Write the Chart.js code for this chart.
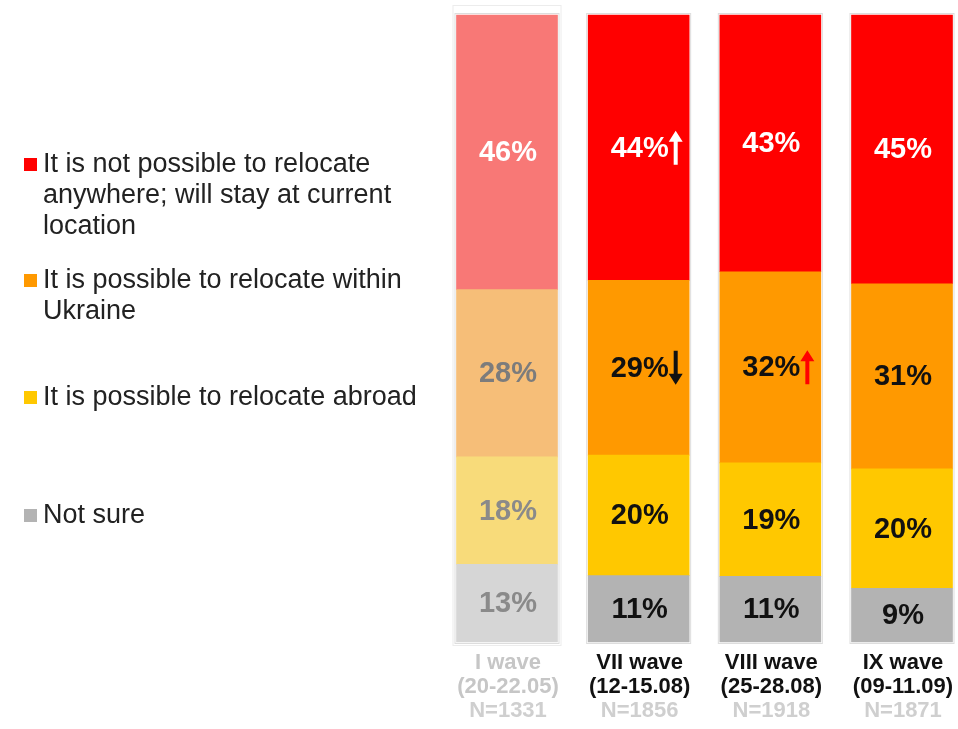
<!DOCTYPE html>
<html>
<head>
<meta charset="utf-8">
<script src="https://cdn.jsdelivr.net/npm/chart.js@4/dist/chart.umd.min.js"></script>
<style>
  html, body { margin: 0; padding: 0; background: #ffffff; }
  #wrap { width: 958px; height: 729px; position: relative; }
</style>
</head>
<body>
<div id="wrap"><canvas id="c" width="958" height="729"></canvas></div>
<script>
// Survey waves (x categories)
const waves = ['I wave', 'VII wave', 'VIII wave', 'IX wave'];
const periods = ['(20-22.05)', '(12-15.08)', '(25-28.08)', '(09-11.09)'];
const sampleSizes = ['N=1331', 'N=1856', 'N=1918', 'N=1871'];

// Answer options
const seriesNames = [
  'It is not possible to relocate anywhere; will stay at current location',
  'It is possible to relocate within Ukraine',
  'It is possible to relocate abroad',
  'Not sure'
];
const legendLines = [
  ['It is not possible to relocate', 'anywhere; will stay at current', 'location'],
  ['It is possible to relocate within', 'Ukraine'],
  ['It is possible to relocate abroad'],
  ['Not sure']
];

// Shares of respondents, %
const notPossible   = [46, 44, 43, 45];
const withinUkraine = [28, 29, 32, 31];
const abroad        = [18, 20, 19, 20];
const notSure       = [13, 11, 11, 9];

// Significant change vs. previous wave
const notPossibleChange   = [null, 'up', null, null];
const withinUkraineChange = [null, 'down', 'up', null];
const abroadChange        = [null, null, null, null];
const notSureChange       = [null, null, null, null];

const FONT = "'Liberation Sans', Arial, Helvetica, sans-serif";

// colours: the first (earlier) wave is shown faded
const palette = {
  notPossible:   { full: '#FF0000', faded: '#F87876' },
  withinUkraine: { full: '#FF9900', faded: '#F6BE78' },
  abroad:        { full: '#FFC800', faded: '#F8DB7A' },
  notSure:       { full: '#B3B3B3', faded: '#D6D6D6' }
};

const totals = waves.map((_, i) => notPossible[i] + withinUkraine[i] + abroad[i] + notSure[i]);
const share = arr => arr.map((v, i) => v / totals[i] * 100);
const colours = key => waves.map((_, i) => i === 0 ? palette[key].faded : palette[key].full);

function series(key, label, values, change, labelColours) {
  return {
    label: label,
    data: share(values),
    raw: values,
    change: change,
    labelColours: labelColours,
    backgroundColor: colours(key),
    borderWidth: 0,
    barThickness: 101,
    clip: false
  };
}

const darkLabels = ['#8a8a8a', '#111111', '#111111', '#111111'];
const datasets = [
  series('notSure', seriesNames[3], notSure, notSureChange, darkLabels),
  series('abroad', seriesNames[2], abroad, abroadChange, darkLabels),
  series('withinUkraine', seriesNames[1], withinUkraine, withinUkraineChange, ['#7c7c7c', '#111111', '#111111', '#111111']),
  series('notPossible', seriesNames[0], notPossible, notPossibleChange, ['#ffffff', '#ffffff', '#ffffff', '#ffffff'])
];
const legendColours = [palette.notPossible.full, palette.withinUkraine.full, palette.abroad.full, palette.notSure.full];

function drawArrow(ctx, x, yTop, yBottom, dir, colour) {
  const headH = 11, headW = 7, shaft = 2;
  ctx.save();
  ctx.fillStyle = colour;
  ctx.beginPath();
  if (dir === 'up') {
    ctx.moveTo(x, yTop);
    ctx.lineTo(x + headW, yTop + headH);
    ctx.lineTo(x + shaft, yTop + headH);
    ctx.lineTo(x + shaft, yBottom);
    ctx.lineTo(x - shaft, yBottom);
    ctx.lineTo(x - shaft, yTop + headH);
    ctx.lineTo(x - headW, yTop + headH);
  } else {
    ctx.moveTo(x, yBottom);
    ctx.lineTo(x + headW, yBottom - headH);
    ctx.lineTo(x + shaft, yBottom - headH);
    ctx.lineTo(x + shaft, yTop);
    ctx.lineTo(x - shaft, yTop);
    ctx.lineTo(x - shaft, yBottom - headH);
    ctx.lineTo(x - headW, yBottom - headH);
  }
  ctx.closePath();
  ctx.fill();
  ctx.restore();
}

// thin frame behind each bar
const barFrames = {
  id: 'barFrames',
  beforeDatasetsDraw(chart) {
    const ctx = chart.ctx;
    const meta = chart.getDatasetMeta(0);
    const area = chart.chartArea;
    ctx.save();
    meta.data.forEach((bar, i) => {
      const half = bar.width / 2;
      if (i === 0) {
        ctx.strokeStyle = '#ececec';
        ctx.lineWidth = 1;
        ctx.strokeRect(bar.x - half - 3.5, area.top - 9.5, bar.width + 7, area.bottom - area.top + 13);
      }
      ctx.strokeStyle = '#dddddd';
      ctx.lineWidth = 1;
      ctx.strokeRect(bar.x - half - 1.5, area.top - 1.5, bar.width + 3, area.bottom - area.top + 3);
    });
    ctx.restore();
  }
};

// value labels, trend arrows, wave labels and the legend block
const annotations = {
  id: 'annotations',
  afterDatasetsDraw(chart) {
    const ctx = chart.ctx;
    ctx.save();
    ctx.font = 'bold 29px ' + FONT;
    ctx.textAlign = 'center';
    ctx.textBaseline = 'middle';
    chart.data.datasets.forEach((ds, di) => {
      const meta = chart.getDatasetMeta(di);
      meta.data.forEach((bar, i) => {
        const cy = (bar.y + bar.base) / 2;
        const text = ds.raw[i] + '%';
        ctx.fillStyle = ds.labelColours[i];
        ctx.fillText(text, bar.x + 1, cy + 1);
        const mark = ds.change[i];
        if (mark) {
          const w = ctx.measureText(text).width;
          const ax = bar.x + 1 + w / 2 + 7;
          let colour;
          if (di === 3) colour = '#ffffff';
          else colour = mark === 'up' ? '#ff0000' : '#111111';
          drawArrow(ctx, ax, cy - 17, cy + 17, mark, colour);
        }
      });
    });
    ctx.restore();
  },
  afterDraw(chart) {
    const ctx = chart.ctx;
    const area = chart.chartArea;
    const meta = chart.getDatasetMeta(0);
    ctx.save();
    ctx.textAlign = 'center';
    ctx.textBaseline = 'middle';
    meta.data.forEach((bar, i) => {
      const x = bar.x + 1;
      ctx.font = 'bold 22px ' + FONT;
      ctx.fillStyle = i === 0 ? '#c6c6c6' : '#111111';
      ctx.fillText(waves[i], x, area.bottom + 21);
      ctx.fillText(periods[i], x, area.bottom + 45);
      ctx.fillStyle = '#cfcfcf';
      ctx.fillText(sampleSizes[i], x, area.bottom + 69);
    });

    // legend
    const legendTop = [165, 281, 398, 516];
    ctx.textAlign = 'left';
    ctx.font = '27px ' + FONT;
    legendLines.forEach((lines, k) => {
      const y0 = legendTop[k];
      ctx.fillStyle = legendColours[k];
      ctx.fillRect(24, y0 - 7, 13, 13);
      ctx.fillStyle = '#222222';
      lines.forEach((line, j) => ctx.fillText(line, 43, y0 + j * 31));
    });
    ctx.restore();
  }
};

new Chart(document.getElementById('c'), {
  type: 'bar',
  data: { labels: waves, datasets: datasets },
  options: {
    responsive: false,
    animation: false,
    layout: { padding: { left: 507, right: 56, top: 15, bottom: 87 } },
    scales: {
      x: { display: false, stacked: true, offset: false },
      y: { display: false, stacked: true, min: 0, max: 100 }
    },
    plugins: { legend: { display: false }, tooltip: { enabled: false } }
  },
  plugins: [barFrames, annotations]
});
</script>
</body>
</html>
